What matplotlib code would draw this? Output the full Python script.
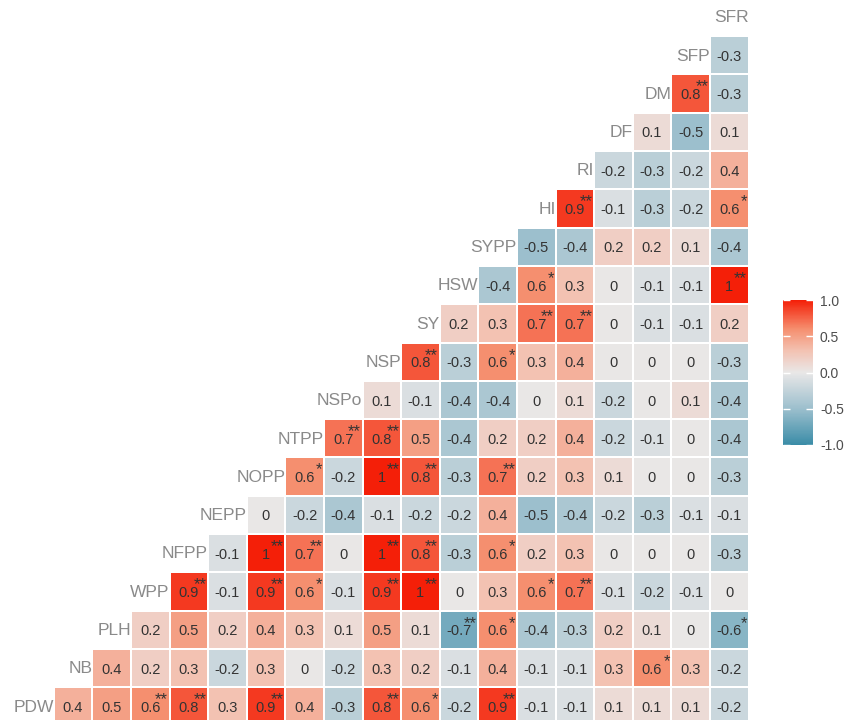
import numpy as np
import matplotlib
matplotlib.use("Agg")
from matplotlib import pyplot as plt
from matplotlib.colors import LinearSegmentedColormap

plt.rcParams['font.family'] = ['Liberation Sans', 'DejaVu Sans']

# column variables, left to right
cols = ['NB', 'PLH', 'WPP', 'NFPP', 'NEPP', 'NOPP', 'NTPP', 'NSPo', 'NSP',
        'SY', 'HSW', 'SYPP', 'HI', 'RI', 'DF', 'DM', 'SFP', 'SFR']
# row variables, top to bottom (first one only carries its label)
rows = ['SFR', 'SFP', 'DM', 'DF', 'RI', 'HI', 'SYPP', 'HSW', 'SY', 'NSP',
        'NSPo', 'NTPP', 'NOPP', 'NEPP', 'NFPP', 'WPP', 'PLH', 'NB', 'PDW']

# correlation values per row (rightmost cells of each row)
r_sfp = [-0.3]
r_dm = [0.8, -0.3]
r_df = [0.1, -0.5, 0.1]
r_ri = [-0.2, -0.3, -0.2, 0.4]
r_hi = [0.9, -0.1, -0.3, -0.2, 0.6]
r_sypp = [-0.5, -0.4, 0.2, 0.2, 0.1, -0.4]
r_hsw = [-0.4, 0.6, 0.3, 0, -0.1, -0.1, 1]
r_sy = [0.2, 0.3, 0.7, 0.7, 0, -0.1, -0.1, 0.2]
r_nsp = [0.8, -0.3, 0.6, 0.3, 0.4, 0, 0, 0, -0.3]
r_nspo = [0.1, -0.1, -0.4, -0.4, 0, 0.1, -0.2, 0, 0.1, -0.4]
r_ntpp = [0.7, 0.8, 0.5, -0.4, 0.2, 0.2, 0.4, -0.2, -0.1, 0, -0.4]
r_nopp = [0.6, -0.2, 1, 0.8, -0.3, 0.7, 0.2, 0.3, 0.1, 0, 0, -0.3]
r_nepp = [0, -0.2, -0.4, -0.1, -0.2, -0.2, 0.4, -0.5, -0.4, -0.2, -0.3, -0.1, -0.1]
r_nfpp = [-0.1, 1, 0.7, 0, 1, 0.8, -0.3, 0.6, 0.2, 0.3, 0, 0, 0, -0.3]
r_wpp = [0.9, -0.1, 0.9, 0.6, -0.1, 0.9, 1, 0, 0.3, 0.6, 0.7, -0.1, -0.2, -0.1, 0]
r_plh = [0.2, 0.5, 0.2, 0.4, 0.3, 0.1, 0.5, 0.1, -0.7, 0.6, -0.4, -0.3, 0.2, 0.1, 0, -0.6]
r_nb = [0.4, 0.2, 0.3, -0.2, 0.3, 0, -0.2, 0.3, 0.2, -0.1, 0.4, -0.1, -0.1, 0.3, 0.6, 0.3, -0.2]
r_pdw = [0.4, 0.5, 0.6, 0.8, 0.3, 0.9, 0.4, -0.3, 0.8, 0.6, -0.2, 0.9, -0.1, -0.1, 0.1, 0.1, 0.1, -0.2]

# significance marks: (row name, cell index within that row, mark)
sig_marks = [
    ('DM', 0, '**'), ('HI', 0, '**'), ('HI', 4, '*'), ('HSW', 1, '*'), ('HSW', 6, '**'),
    ('SY', 2, '**'), ('SY', 3, '**'), ('NSP', 0, '**'), ('NSP', 2, '*'),
    ('NTPP', 0, '**'), ('NTPP', 1, '**'), ('NOPP', 0, '*'), ('NOPP', 2, '**'),
    ('NOPP', 3, '**'), ('NOPP', 5, '**'), ('NFPP', 1, '**'), ('NFPP', 2, '**'),
    ('NFPP', 4, '**'), ('NFPP', 5, '**'), ('NFPP', 7, '*'), ('WPP', 0, '**'),
    ('WPP', 2, '**'), ('WPP', 3, '*'), ('WPP', 5, '**'), ('WPP', 6, '**'),
    ('WPP', 9, '*'), ('WPP', 10, '**'), ('PLH', 8, '**'), ('PLH', 9, '*'),
    ('PLH', 15, '*'), ('NB', 14, '*'), ('PDW', 2, '**'), ('PDW', 3, '**'),
    ('PDW', 5, '**'), ('PDW', 8, '**'), ('PDW', 9, '*'), ('PDW', 11, '**'),
]

row_vals = [r_sfp, r_dm, r_df, r_ri, r_hi, r_sypp, r_hsw, r_sy, r_nsp, r_nspo,
            r_ntpp, r_nopp, r_nepp, r_nfpp, r_wpp, r_plh, r_nb, r_pdw]

ncol = len(cols)
nrow = len(rows)
mat = np.full((nrow, ncol), np.nan)
for i, vals in enumerate(row_vals, start=1):
    mat[i, ncol - len(vals):] = vals
data = np.ma.masked_invalid(mat)

# colour stops picked from the reference cells (value -> colour)
stops = [(-1.0, '#3a8ca7'), (-0.5, '#9cbfcd'), (0.0, '#e9e7e7'),
         (0.3, '#f3c2b2'), (0.6, '#f58f6f'), (1.0, '#f41f08')]
cmap = LinearSegmentedColormap.from_list('corr', [((v + 1) / 2, c) for v, c in stops])

fig = plt.figure(figsize=(8.46, 7.2), dpi=100)
W, H = 846.0, 720.0
# pixel extents of the grid
x0, x1 = 53.7, 748.5
y0, y1 = -2.2, 725.6
ax = fig.add_axes([x0 / W, 1 - y1 / H, (x1 - x0) / W, (y1 - y0) / H])
mesh = ax.pcolormesh(np.arange(ncol + 1) - 0.5, np.arange(nrow + 1) - 0.5, data,
                     cmap=cmap, vmin=-1, vmax=1, edgecolors='white', linewidth=1.2)
ax.set_xlim(-0.5, ncol - 0.5)
ax.set_ylim(nrow - 0.5, -0.5)
ax.axis('off')

for i in range(1, nrow):
    for j in range(ncol):
        v = mat[i, j]
        if np.isnan(v):
            continue
        s = '0' if v == 0 else ('%g' % v)
        ax.text(j, i + 0.04, s, ha='center', va='center', fontsize=10.5, color='#333333')

for name, k, mark in sig_marks:
    i = rows.index(name)
    j = ncol - len(row_vals[i - 1]) + k
    ax.text(j + 0.46, i - 0.17, mark, ha='right', va='center', fontsize=12, color='#333333')

# diagonal labels
for i, name in enumerate(rows):
    j = ncol - 1 - i
    ax.text(j + 0.5, i + 0.02, name, ha='right', va='center', fontsize=12.5,
            color='#8a8a8a', clip_on=False)

cax = fig.add_axes([783 / W, 1 - 445 / H, 30 / W, 145 / H])
cb = fig.colorbar(mesh, cax=cax, ticks=[-1, -0.5, 0, 0.5, 1])
cb.outline.set_visible(False)
cb.ax.set_yticklabels(['-1.0', '-0.5', '0.0', '0.5', '1.0'])
cb.ax.tick_params(direction='in', color='white', length=5, width=1, left=True, right=True,
                  labelsize=10, labelcolor='#4d4d4d', pad=5)

fig.savefig('out.png', dpi=100)
